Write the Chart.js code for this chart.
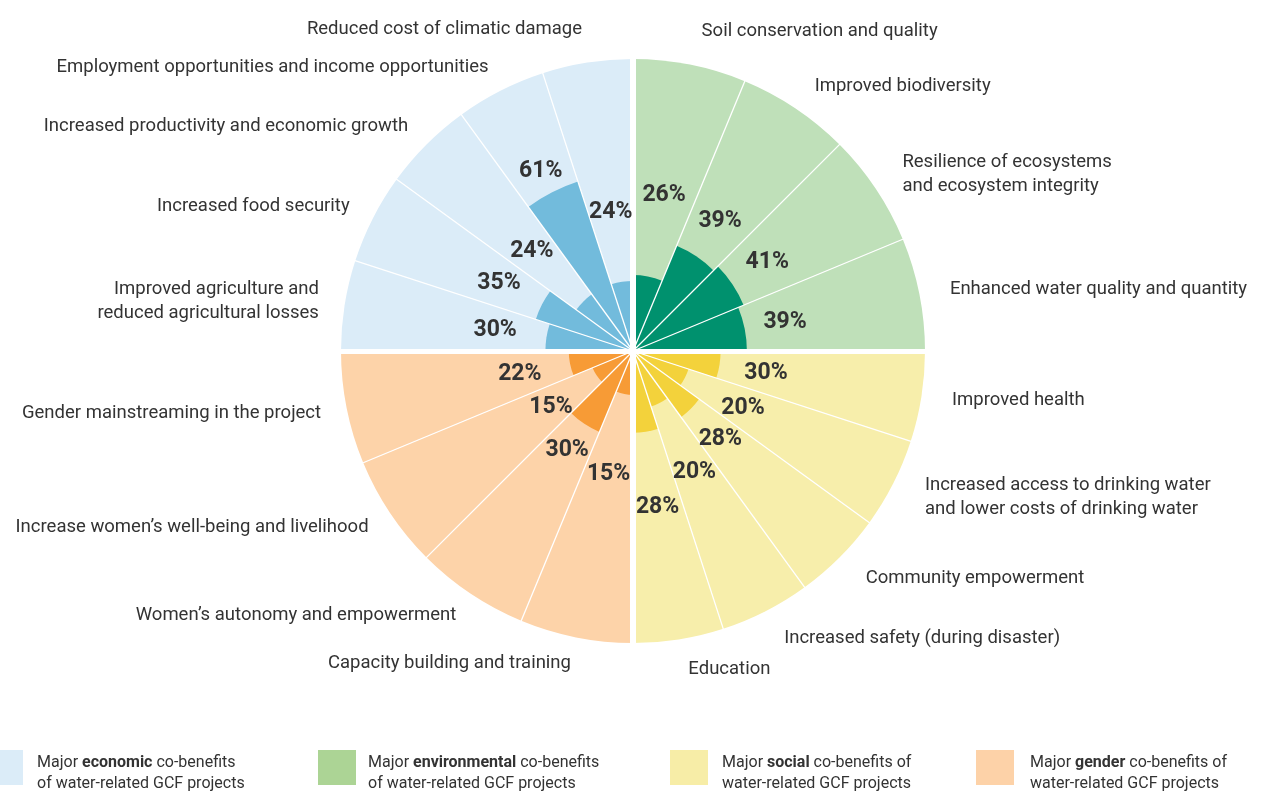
<!DOCTYPE html>
<html><head><meta charset="utf-8">
<script src="https://cdn.jsdelivr.net/npm/chart.js@4/dist/chart.umd.min.js"></script>
<style>
html,body{margin:0;padding:0;background:#fff;overflow:hidden;}
#wrap{position:relative;width:1261px;height:792px;}
#wrap canvas{position:absolute;left:0;top:0;}
.lg-box{position:absolute;top:750px;width:38px;height:35px;}
.lg-text{position:absolute;top:751px;font:16px Roboto, sans-serif;line-height:21px;color:#333;white-space:nowrap;}
.lg-text b{font-weight:700;}
</style></head><body>
<div id="wrap">
<canvas id="c"></canvas>
<div class="lg-box" style="left:-15px;background:#dbecf8"></div>
<div class="lg-text" style="left:37px">Major <b>economic</b> co-benefits<br>of water-related GCF projects</div>
<div class="lg-box" style="left:318px;background:#acd495"></div>
<div class="lg-text" style="left:368px">Major <b>environmental</b> co-benefits<br>of water-related GCF projects</div>
<div class="lg-box" style="left:670px;background:#f7eda7"></div>
<div class="lg-text" style="left:722px">Major <b>social</b> co-benefits of<br>water-related GCF projects</div>
<div class="lg-box" style="left:976px;background:#fdd2a8"></div>
<div class="lg-text" style="left:1030px">Major <b>gender</b> co-benefits of<br>water-related GCF projects</div>
</div>
<script>
// ---- data (clockwise from 12 o'clock) ----
const categories = [
  'Soil conservation and quality',
  'Improved biodiversity',
  ['Resilience of ecosystems', 'and ecosystem integrity'],
  'Enhanced water quality and quantity',
  'Improved health',
  ['Increased access to drinking water', 'and lower costs of drinking water'],
  'Community empowerment',
  'Increased safety (during disaster)',
  'Education',
  'Capacity building and training',
  'Women\u2019s autonomy and empowerment',
  'Increase women\u2019s well-being and livelihood',
  'Gender mainstreaming in the project',
  ['Improved agriculture and', 'reduced agricultural losses'],
  'Increased food security',
  'Increased productivity and economic growth',
  'Employment opportunities and income opportunities',
  'Reduced cost of climatic damage'
];
const groupNames = ['environmental', 'social', 'gender', 'economic'];
const groupOf = [0,0,0,0, 1,1,1,1,1, 2,2,2,2, 3,3,3,3,3];
const shares = [26,39,41,39, 30,20,28,20,28, 15,30,15,22, 30,35,24,61,24];
const fullScale = [100,100,100,100, 100,100,100,100,100, 100,100,100,100, 100,100,100,100,100];

// ---- styling / layout ----
const darkColors  = ['#00916e', '#f3d23b', '#f79b36', '#72bbdc'];
const lightColors = ['#bfe0b9', '#f7eeab', '#fdd3a9', '#dbecf8'];
const labelRadius = [54.6,53.7,55.3,53.1, 46.1,42.3,42.3,46.3,53.9, 42.8,40.6,33.8,39.5, 47.8,51.5,49.0,69.6,48.6];
const groupSize = groupNames.map((_, g) => groupOf.filter(x => x === g).length);
const angleFor = ctx => 90 / groupSize[groupOf[ctx.dataIndex]];

const overlay = {
  id: 'overlay',
  afterDatasetsDraw(chart) {
    const ctx = chart.ctx, r = chart.scales.r;
    const cx = r.xCenter, cy = r.yCenter, R = r.drawingArea;
    const arcs = chart.getDatasetMeta(1).data;
    ctx.save();
    // thin dividers
    ctx.strokeStyle = '#fff'; ctx.lineWidth = 1.3;
    arcs.forEach(a => {
      ctx.beginPath();
      ctx.moveTo(cx, cy);
      ctx.lineTo(cx + Math.cos(a.startAngle) * (R + 2), cy + Math.sin(a.startAngle) * (R + 2));
      ctx.stroke();
    });
    // quadrant gaps
    ctx.fillStyle = '#fff';
    ctx.fillRect(cx - 3, cy - R - 5, 6, 2 * R + 10);
    ctx.fillRect(cx - R - 5, cy - 2, 2 * R + 10, 5);
    // percentage labels
    ctx.fillStyle = '#333';
    ctx.font = 'bold 23px Roboto, sans-serif';
    ctx.textAlign = 'center'; ctx.textBaseline = 'middle';
    arcs.forEach((a, i) => {
      const mid = (a.startAngle + a.endAngle) / 2;
      const d = r.getDistanceFromCenterForValue(labelRadius[i]);
      ctx.fillText(shares[i] + '%', cx + Math.cos(mid) * d, cy + Math.sin(mid) * d + 1);
    });
    // category labels
    ctx.font = '18.5px Roboto, sans-serif';
    ctx.fillStyle = '#333';
    const lh = 24;
    arcs.forEach((a, i) => {
      const mid = (a.startAngle + a.endAngle) / 2;
      const c = Math.cos(mid), s = Math.sin(mid);
      // labels close to the vertical axis sit a little further out
      const Rl = R + 26 + (Math.abs(s) > 0.97 && s < 0 ? 8 : 0) + (s > 0.3 && c > 0 ? 4 : 0);
      const px = cx + c * Rl, py = cy + s * Rl;
      const right = c > 0;
      const lines = Array.isArray(categories[i]) ? categories[i] : [categories[i]];
      ctx.textAlign = right ? 'left' : 'right';
      const y0 = py - (lines.length - 1) * lh / 2;
      lines.forEach((t, k) => ctx.fillText(t, px + (right ? 5 : 0), y0 + k * lh));
    });
    ctx.restore();
  }
};

new Chart(document.getElementById('c'), {
  type: 'polarArea',
  data: {
    labels: categories,
    datasets: [
      { label: 'Share of projects', data: shares,
        backgroundColor: ctx => darkColors[groupOf[ctx.dataIndex]],
        borderWidth: 0, angle: angleFor },
      { label: 'Full scale', data: fullScale,
        backgroundColor: ctx => lightColors[groupOf[ctx.dataIndex]],
        borderWidth: 0, angle: angleFor }
    ]
  },
  options: {
    responsive: true,
    maintainAspectRatio: false,
    animation: false,
    layout: { padding: { left: 341, right: 335, top: 59, bottom: 148 } },
    plugins: { legend: { display: false }, tooltip: { enabled: false } },
    scales: {
      r: {
        min: 0, max: 100, startAngle: 0,
        grid: { display: false },
        angleLines: { display: false },
        ticks: { display: false },
        pointLabels: { display: false }
      }
    }
  },
  plugins: [overlay]
});
</script>
</body></html>
